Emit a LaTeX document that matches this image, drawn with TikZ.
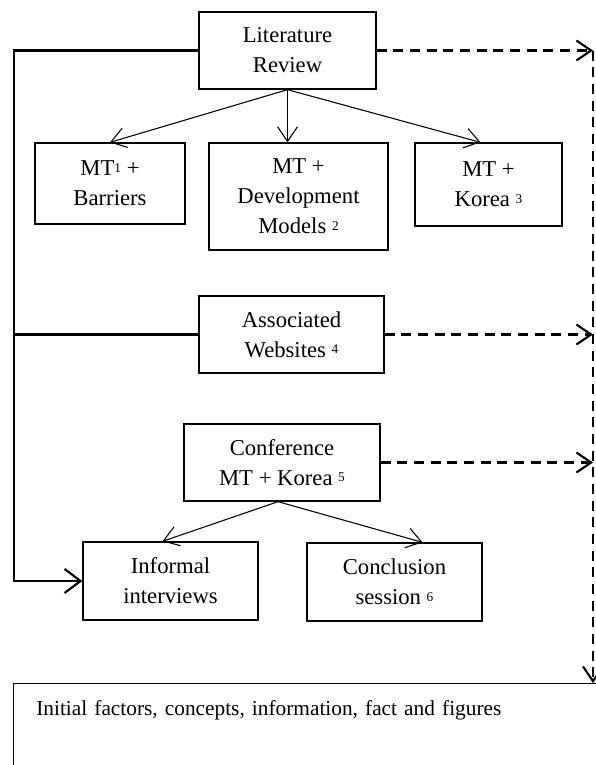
\documentclass[tikz,border=0pt]{standalone}
\usepackage{fontspec}
\setmainfont{Liberation Serif}
\usetikzlibrary{arrows.meta}
\newcommand{\fnum}[1]{\raisebox{0.35ex}{\fontsize{10}{10}\selectfont #1}}
\begin{document}
\begin{tikzpicture}[x=0.75pt,y=-0.75pt,
  box/.style={draw, line width=1pt, align=center, font=\fontsize{17}{22.5}\selectfont, inner sep=0pt},
  thinarrow/.style={line width=0.8pt, -{Straight Barb[length=11pt,width=15pt]}},
  solidline/.style={line width=1.6pt},
  dashline/.style={line width=1.6pt, dash pattern=on 7.5pt off 5pt},
  bigtip/.style={-{Straight Barb[length=11pt,width=15pt,line width=1.6pt]}},
  bigtipb/.style={-{Straight Barb[length=12pt,width=18pt,line width=1.6pt]}}]
\useasboundingbox (0,0) rectangle (596,765);
\clip (0,0) rectangle (596,765);
\node[box, minimum width=132.75pt, minimum height=57.75pt] (lr) at (287.5,50.5) {Literature\\Review};
\node[box, minimum width=112.5pt, minimum height=60.75pt] (b1) at (110,183.5) {MT\fnum{1} +\\Barriers};
\node[box, minimum width=134.25pt, minimum height=80.25pt] (b2) at (298.5,196.5) {MT +\\Development\\Models \fnum{2}};
\node[box, minimum width=110.25pt, minimum height=62.25pt] (b3) at (488.5,184.5) {MT +\\Korea \fnum{3}};
\node[box, minimum width=138.75pt, minimum height=57.75pt] (aw) at (291.5,334.5) {Associated\\Websites \fnum{4}};
\node[box, minimum width=147pt, minimum height=57.75pt] (conf) at (282,462.5) {Conference\\MT + Korea \fnum{5}};
\node[box, minimum width=131.25pt, minimum height=58.5pt] (ii) at (170.5,581) {Informal\\interviews};
\node[box, minimum width=131.25pt, minimum height=58.5pt] (cs) at (394.5,582) {Conclusion\\session \fnum{6}};
\node[draw, line width=1pt, anchor=north west, font=\fontsize{16}{22.5}\selectfont,
  inner xsep=17pt, inner ysep=0pt, text width=407.75pt, align=left,
  text height=24pt, text depth=45pt] (fin) at (13,683) {Initial factors, concepts, information, fact and figures};
% thin arrows
\draw[thinarrow] (lr.south) -- (b1.north);
\draw[thinarrow] (lr.south) -- (lr.south |- b2.north);
\draw[thinarrow] (lr.south) -- ([xshift=-6pt]b3.north);
\draw[thinarrow] ([xshift=-3pt]conf.south) -- ([xshift=-6pt]ii.north);
\draw[thinarrow] ([xshift=-3pt]conf.south) -- ([xshift=21pt]cs.north);
% left solid lines
\coordinate (lt) at (14,50.5);
\draw[solidline, bigtipb] (lr.west) -- (lt) |- (ii.west);
\draw[solidline] (aw.west) -- (aw.west -| lt);
% right dashed lines
\coordinate (rx) at (593,50.5);
\draw[dashline, bigtip] (lr.east) -- (lr.east -| rx);
\draw[dashline, bigtip] (aw.east) -- (aw.east -| rx);
\draw[dashline, bigtip] (conf.east) -- (conf.east -| rx);
\draw[dashline, bigtip] (rx) -- (rx |- fin.north);
\end{tikzpicture}
\end{document}
